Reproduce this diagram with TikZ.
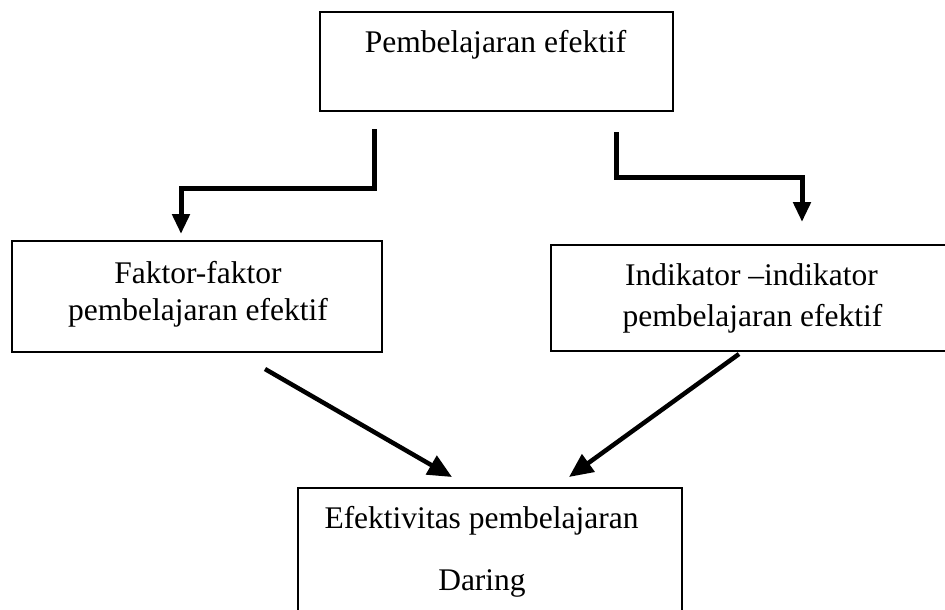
\documentclass[tikz,border=0pt]{standalone}
\usepackage{fontspec}
\setmainfont{Liberation Serif}
\usetikzlibrary{arrows.meta,calc}
\begin{document}
\begin{tikzpicture}[x=1pt,y=-1pt,
  box/.style={draw, line width=2pt, inner sep=0pt, rectangle},
  lbl/.style={anchor=base, inner sep=0pt, font=\fontsize{31.5}{38}\selectfont},
  elbow/.style={line width=5pt, -{Triangle[length=20pt,width=17pt]}},
  diag/.style={line width=4.5pt, -{Triangle[length=24pt,width=21pt]}}]
\useasboundingbox (0,0) rectangle (945,610);
% boxes
\node[box, minimum width=353pt, minimum height=99pt] (top) at (496.5,61.5) {};
\node[box, minimum width=370pt, minimum height=111pt] (left) at (197,296.5) {};
\node[box, minimum width=402pt, minimum height=106pt] (right) at (752,298) {};
\node[box, minimum width=384pt, minimum height=136pt] (bottom) at (490,556) {};
% texts
\node[lbl] (ttop) at (495.5,53) {Pembelajaran efektif};
\node[lbl] (tl1) at (198,283) {Faktor-faktor};
\node[lbl] (tl2) at (198,320) {pembelajaran efektif};
\node[lbl] (tr1) at (751.5,285) {Indikator –indikator};
\node[lbl] (tr2) at (752.5,326) {pembelajaran efektif};
\node[lbl] (tb1) at (481.5,528) {Efektivitas pembelajaran};
\node[lbl] (tb2) at (482,590) {Daring};
% elbow connectors
\draw[elbow] ($(top.south west)+(55,17)$) -- ++(0,59) -| ($(left.north west)+(170,-6)$);
\draw[elbow] ($(top.south east)+(-58,20)$) -- ++(0,45) -| ($(right.north west)+(252,-22)$);
% diagonal connectors
\draw[diag] ($(left.south west)+(254,16)$) -- ($(bottom.north west)+(155,-10)$);
\draw[diag] ($(right.south west)+(189,2)$) -- ($(bottom.north west)+(272,-10)$);
\end{tikzpicture}
\end{document}
